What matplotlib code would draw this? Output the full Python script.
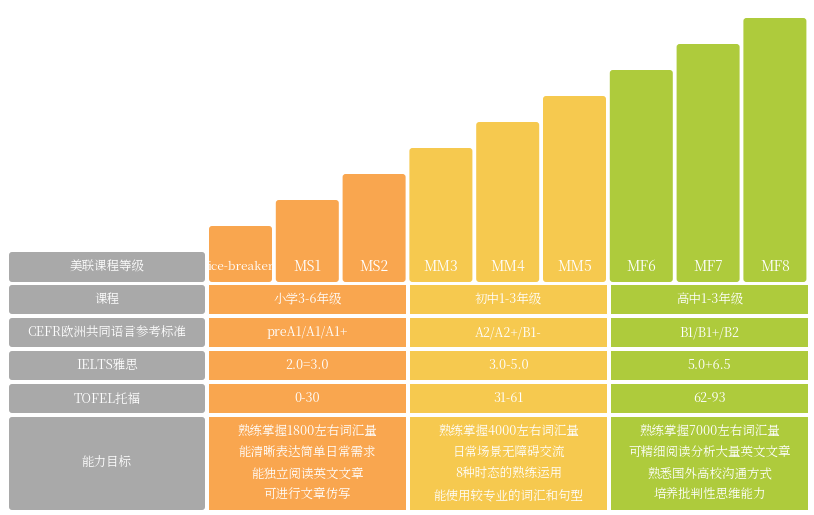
import matplotlib.pyplot as plt
from matplotlib import font_manager
from matplotlib.patches import FancyBboxPatch, Rectangle

cjk = [f.name for f in font_manager.fontManager.ttflist if "CJK" in f.name]
pref = [n for n in cjk if n.endswith("SC")] or cjk
plt.rcParams["font.family"] = (pref[:1] if pref else []) + ["DejaVu Sans"]

levels = ["ice-breaker", "MS1", "MS2", "MM3", "MM4", "MM5", "MF6", "MF7", "MF8"]
steps = [1, 2, 3, 4, 5, 6, 7, 8, 9]
row_labels = ["美联课程等级", "课程", "CEFR欧洲共同语言参考标准", "IELTS雅思", "TOFEL托福", "能力目标"]
course = ["小学3-6年级", "初中1-3年级", "高中1-3年级"]
cefr = ["preA1/A1/A1+", "A2/A2+/B1-", "B1/B1+/B2"]
ielts = ["2.0=3.0", "3.0-5.0", "5.0+6.5"]
toefl = ["0-30", "31-61", "62-93"]
goals = [
    ["熟练掌握1800左右词汇量", "能清晰表达简单日常需求", "能独立阅读英文文章", "可进行文章仿写"],
    ["熟练掌握4000左右词汇量", "日常场景无障碍交流", "8种时态的熟练运用", "能使用较专业的词汇和句型"],
    ["熟练掌握7000左右词汇量", "可精细阅读分析大量英文文章", "熟悉国外高校沟通方式", "培养批判性思维能力"],
]
colors = ["#F9A64F", "#F6C94F", "#AECB3C"]
gray = "#A9A9A9"

fig = plt.figure(figsize=(8.14, 5.15), dpi=100)
ax = fig.add_axes([0, 0, 1, 1])
ax.set_xlim(0, 814)
ax.set_ylim(515, 0)
ax.axis("off")

col_x = [209 + i * 66.8 for i in range(9)]
col_w = 63
base = 282
# staircase bars
for i, (name, s) in enumerate(zip(levels, steps)):
    top = base - (30 + 26 * s)
    c = colors[i // 3]
    ax.add_patch(FancyBboxPatch((col_x[i], top), col_w, base - top,
                                boxstyle="round,pad=0,rounding_size=3",
                                fc=c, ec="none"))
    ax.text(col_x[i] + col_w / 2, 267, name, ha="center", va="center",
            color="white", fontsize=10 if i else 8.5)

rows = [(252, 282), (285, 314), (318, 347), (351, 380), (384, 413), (417, 510)]
for (y0, y1), lab in zip(rows, row_labels):
    ax.add_patch(FancyBboxPatch((9, y0), 196, y1 - y0,
                                boxstyle="round,pad=0,rounding_size=3",
                                fc=gray, ec="none"))
    ax.text(107, (y0 + y1) / 2, lab, ha="center", va="center", color="white", fontsize=9)

grp_x = [209, 410, 611]
grp_w = 197
for g in range(3):
    for (y0, y1), vals in zip(rows[1:5], [course, cefr, ielts, toefl]):
        ax.add_patch(Rectangle((grp_x[g], y0), grp_w, y1 - y0, fc=colors[g], ec="none"))
        ax.text(grp_x[g] + grp_w / 2, (y0 + y1) / 2, vals[g], ha="center", va="center",
                color="white", fontsize=9)
    y0, y1 = rows[5]
    ax.add_patch(Rectangle((grp_x[g], y0), grp_w, y1 - y0, fc=colors[g], ec="none"))
    for k, line in enumerate(goals[g]):
        ax.text(grp_x[g] + grp_w / 2, 432 + k * 21, line, ha="center", va="center",
                color="white", fontsize=9)

fig.savefig("out.png", dpi=100)
